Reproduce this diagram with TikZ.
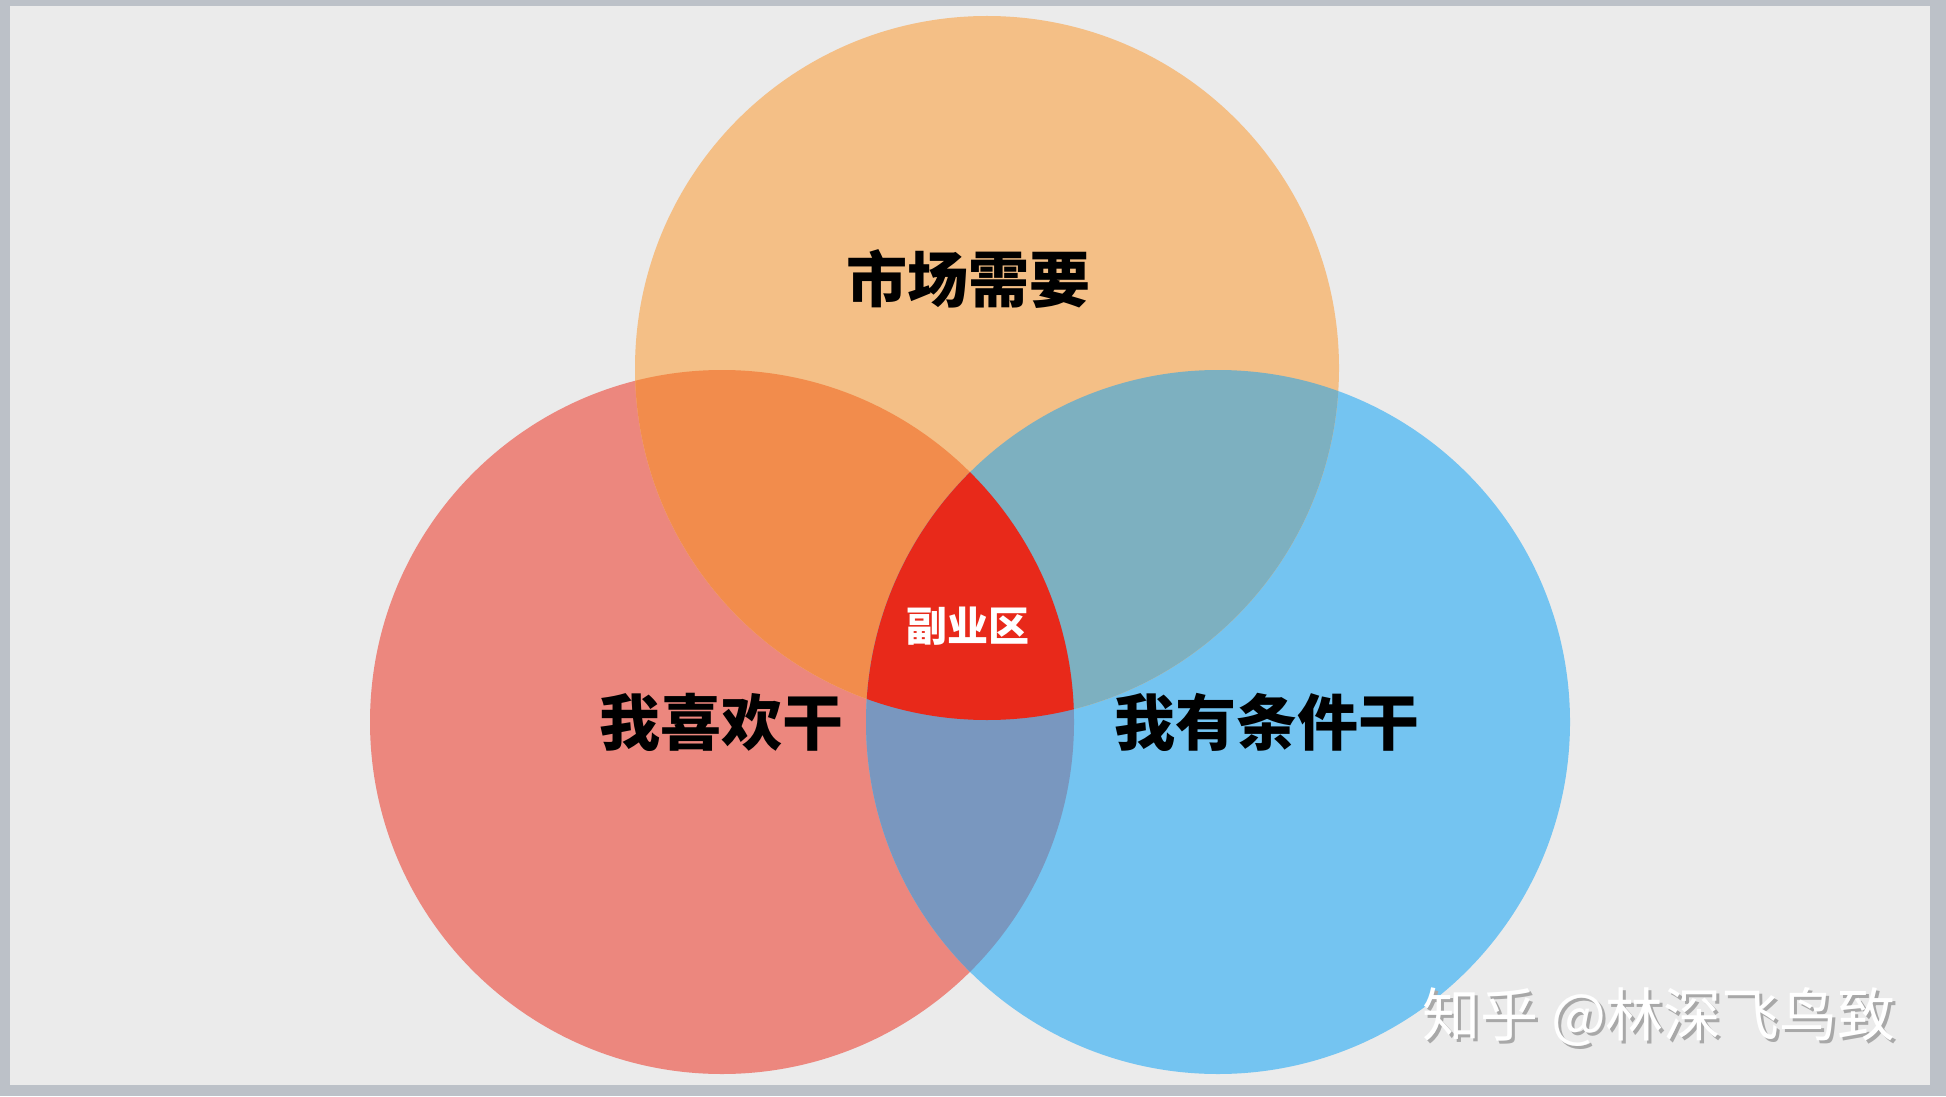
\documentclass[tikz,border=0pt]{standalone}
\usepackage{fontspec}
\newfontfamily\cjk{Noto Sans CJK SC}
\definecolor{frame}{HTML}{BCC1C8}
\definecolor{bg}{HTML}{EBEBEB}
\definecolor{corange}{HTML}{F4BF86}
\definecolor{cred}{HTML}{EC877E}
\definecolor{cblue}{HTML}{74C4F1}
\definecolor{cor}{HTML}{F28C4C}
\definecolor{cob}{HTML}{7DB0C0}
\definecolor{crb}{HTML}{7997BF}
\definecolor{ccenter}{HTML}{E8291A}
\definecolor{shadowgray}{HTML}{A8A8A8}
\tikzset{
  biglabel/.style={font=\cjk\bfseries\fontsize{30.5pt}{32pt}\selectfont, text=black, inner sep=0pt},
  centerlabel/.style={font=\cjk\bfseries\fontsize{20.5pt}{22pt}\selectfont, text=white, inner sep=0pt},
  wmark/.style={font=\cjk\fontsize{29pt}{31pt}\selectfont, inner sep=0pt}
}
\begin{document}
\begin{tikzpicture}[x=0.5pt,y=-0.5pt]
\useasboundingbox (0,0) rectangle (1946,1096);
% frame and background
\fill[frame] (0,0) rectangle (1946,1096);
\fill[bg] (10,6) rectangle (1930,1085);
% circles
\def\rr{352}
\coordinate (ct) at (987,368);
\coordinate (cl) at (722,722);
\coordinate (cr) at (1218,722);
\fill[cred] (cl) circle (\rr);
\fill[cblue] (cr) circle (\rr);
\fill[corange] (ct) circle (\rr);
% pairwise overlaps
\begin{scope}
  \clip (ct) circle (\rr);
  \fill[cor] (cl) circle (\rr);
\end{scope}
\begin{scope}
  \clip (ct) circle (\rr);
  \fill[cob] (cr) circle (\rr);
\end{scope}
\begin{scope}
  \clip (cl) circle (\rr);
  \fill[crb] (cr) circle (\rr);
\end{scope}
% triple overlap
\begin{scope}
  \clip (ct) circle (\rr);
  \clip (cl) circle (\rr);
  \fill[ccenter] (cr) circle (\rr);
\end{scope}
% labels
\node[biglabel] (market) at (968,279) {市场需要};
\node[biglabel] (like) at (721,722) {我喜欢干};
\node[biglabel] (able) at (1267,722) {我有条件干};
\node[centerlabel] (side) at (968,626) {副业区};
% watermark
\node[wmark, text=shadowgray] (wms) at (1662,1020) {知乎 @林深飞鸟致};
\node[wmark, text=white] (wm) at (1659,1017) {知乎 @林深飞鸟致};
\end{tikzpicture}
\end{document}
